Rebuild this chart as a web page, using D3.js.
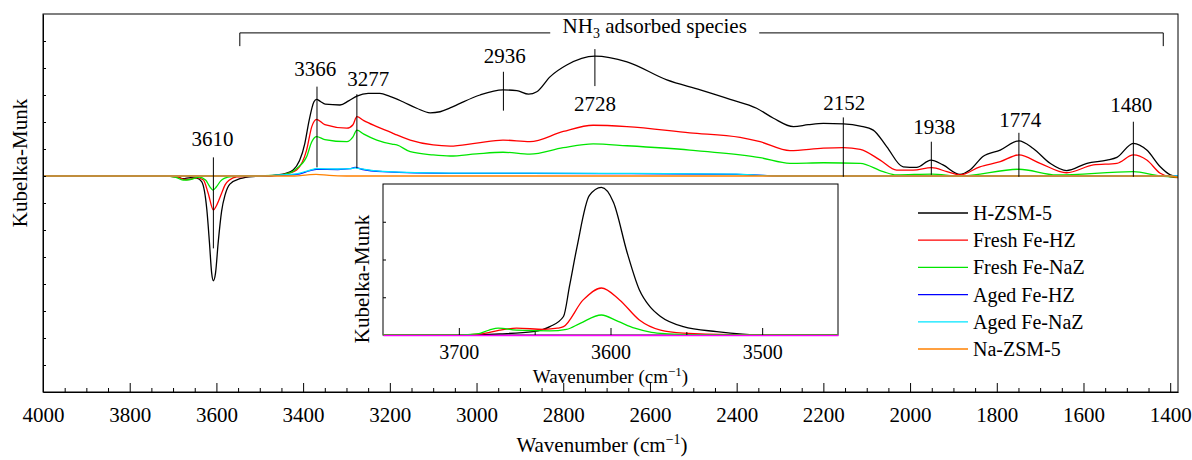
<!DOCTYPE html>
<html>
<head>
<meta charset="utf-8">
<script src="https://cdn.jsdelivr.net/npm/d3@7"></script>
<style>
  body { margin: 0; background: #fff; }
  svg { font-family: "Liberation Serif", "Times New Roman", serif; }
  .axis path, .axis line { stroke: #000; }
  .axis text { font-size: 21px; fill: #000; font-family: "Liberation Serif", serif; }
  .curve { fill: none; stroke-width: 1.3; }
</style>
</head>
<body>
<svg id="chart"></svg>
<script>
// ---- data ----
const seriesNames = ['H-ZSM-5', 'Fresh Fe-HZ', 'Fresh Fe-NaZ', 'Aged Fe-HZ', 'Aged Fe-NaZ', 'Na-ZSM-5'];
const seriesColors = ['#000000', '#ff0000', '#00e600', '#0000ff', '#00e5ff', '#ff8000'];

// [wavenumber, Kubelka-Munk]
const hZsm5 = [[4000,0],[3720,0],[3690,-0.003],[3677,-0.01],[3660,-0.006],[3645,-0.008],[3634,-0.021],[3622,-0.126],[3616,-0.248],[3611,-0.359],[3607,-0.388],[3602,-0.359],[3596,-0.248],[3588,-0.13],[3580,-0.07],[3569,-0.03],[3546,-0.01],[3516,-0.002],[3480,0],[3460,0.004],[3440,0.01],[3423,0.022],[3396,0.121],[3386,0.207],[3375,0.275],[3369,0.284],[3360,0.276],[3349,0.266],[3315,0.263],[3295,0.278],[3276,0.296],[3250,0.306],[3223,0.306],[3200,0.295],[3170,0.275],[3138,0.251],[3107,0.234],[3084,0.238],[3061,0.252],[3038,0.269],[2992,0.300],[2939,0.319],[2907,0.316],[2880,0.303],[2861,0.312],[2830,0.368],[2792,0.411],[2727,0.444],[2653,0.423],[2561,0.356],[2484,0.319],[2415,0.284],[2354,0.251],[2315,0.214],[2269,0.183],[2235,0.19],[2200,0.195],[2154,0.193],[2115,0.185],[2085,0.170],[2054,0.109],[2016,0.034],[1985,0.032],[1952,0.059],[1924,0.041],[1885,0.006],[1862,0.022],[1832,0.072],[1792,0.096],[1749,0.130],[1716,0.102],[1677,0.047],[1639,0.020],[1592,0.047],[1546,0.059],[1523,0.069],[1485,0.121],[1454,0.096],[1423,0.034],[1400,0.004],[1382,-0.003]];
const freshFeHZ = [[4000,0],[3720,0],[3690,-0.004],[3672,-0.013],[3660,-0.012],[3645,-0.006],[3630,-0.015],[3619,-0.064],[3607,-0.126],[3600,-0.11],[3588,-0.064],[3580,-0.033],[3570,-0.015],[3553,-0.003],[3500,0],[3460,0.003],[3430,0.012],[3415,0.022],[3392,0.096],[3380,0.183],[3369,0.21],[3350,0.19],[3299,0.177],[3285,0.19],[3276,0.22],[3260,0.205],[3230,0.183],[3195,0.16],[3184,0.152],[3153,0.133],[3100,0.115],[3061,0.111],[3000,0.122],[2939,0.133],[2877,0.127],[2800,0.165],[2731,0.188],[2653,0.183],[2508,0.160],[2392,0.143],[2346,0.127],[2277,0.094],[2200,0.103],[2154,0.105],[2115,0.099],[2069,0.059],[2031,0.022],[1993,0.022],[1950,0.031],[1915,0.016],[1885,0.004],[1839,0.034],[1792,0.053],[1749,0.078],[1700,0.047],[1639,0.012],[1577,0.041],[1523,0.047],[1485,0.078],[1454,0.059],[1423,0.010],[1400,-0.003],[1382,-0.006]];
const freshFeNaZ = [[4000,0],[3720,0],[3695,-0.004],[3677,-0.015],[3660,-0.013],[3640,-0.004],[3625,-0.015],[3615,-0.04],[3608,-0.052],[3600,-0.04],[3590,-0.018],[3582,-0.009],[3565,-0.002],[3520,0],[3460,0.003],[3430,0.012],[3415,0.028],[3392,0.071],[3380,0.127],[3369,0.146],[3350,0.135],[3299,0.127],[3285,0.145],[3276,0.170],[3260,0.155],[3230,0.133],[3195,0.118],[3184,0.115],[3153,0.090],[3100,0.078],[3061,0.074],[3000,0.082],[2939,0.088],[2877,0.081],[2800,0.105],[2731,0.119],[2653,0.112],[2508,0.096],[2392,0.078],[2346,0.068],[2277,0.047],[2200,0.049],[2115,0.047],[2062,0.016],[2031,0.004],[1950,0.007],[1885,0.0],[1749,0.025],[1662,0.004],[1485,0.016],[1423,0.0],[1382,-0.003]];
const agedFeHZ = [[4000,0],[3500,0],[3460,0.002],[3415,0.006],[3384,0.020],[3369,0.025],[3320,0.024],[3292,0.027],[3280,0.032],[3265,0.025],[3216,0.016],[3061,0.010],[2700,0.009],[2400,0.006],[2340,0.002],[2300,0],[1382,0]];
const agedFeNaZ = [[4000,0],[3500,0],[3460,0.003],[3415,0.008],[3384,0.022],[3369,0.027],[3320,0.026],[3292,0.027],[3280,0.030],[3265,0.026],[3216,0.017],[3061,0.011],[2700,0.010],[2400,0.007],[2340,0.002],[2300,0],[1382,0]];
const naZsm5 = [[4000,0],[3420,0],[3390,0.004],[3370,0.006],[3340,0.002],[3300,0],[1400,0],[1382,-0.004]];

// inset (3750-3450 cm-1)
const insetHZsm5 = [[3750,0],[3700,0],[3673,0.03],[3651,0.09],[3640,0.22],[3631,0.49],[3627,1.3],[3622,2.35],[3614,3.69],[3606,3.91],[3598,3.51],[3589,2.18],[3581,1.2],[3574,0.75],[3567,0.49],[3552,0.22],[3530,0.09],[3500,0.0],[3450,0]];
const insetFreshFeHZ = [[3750,0],[3700,0],[3685,0.03],[3673,0.13],[3662,0.18],[3644,0.15],[3635,0.18],[3631,0.22],[3618,0.93],[3606,1.245],[3594,0.93],[3581,0.4],[3567,0.13],[3552,0.05],[3520,0.01],[3450,0]];
const insetFreshFeNaZ = [[3750,0],[3700,0],[3688,0.03],[3680,0.13],[3674,0.18],[3662,0.13],[3640,0.11],[3629,0.15],[3620,0.31],[3606,0.53],[3595,0.36],[3584,0.18],[3573,0.07],[3562,0.03],[3540,0],[3450,0]];

const xTickValues = [4000, 3800, 3600, 3400, 3200, 3000, 2800, 2600, 2400, 2200, 2000, 1800, 1600, 1400];
const insetTickValues = [3700, 3600, 3500];

// peak markers: w = where the line sits, label text, line top/bottom (K-M units), label anchor
const peakMarks = [
  {w: 3607, label: '3610', top: 0.069, bottom: -0.268, lw: 3609, ly: 0.111},
  {w: 3368, label: '3366', top: 0.331, bottom: 0.032, lw: 3372, ly: 0.370},
  {w: 3276, label: '3277', top: 0.303, bottom: 0.029, lw: 3250, ly: 0.333},
  {w: 2938, label: '2936', top: 0.386, bottom: 0.242, lw: 2935, ly: 0.419},
  {w: 2727, label: '2728', top: 0.470, bottom: 0.333, lw: 2727, ly: 0.242},
  {w: 2154, label: '2152', top: 0.217, bottom: -0.003, lw: 2152, ly: 0.244},
  {w: 1951, label: '1938', top: 0.127, bottom: 0.004, lw: 1944, ly: 0.154},
  {w: 1749, label: '1774', top: 0.160, bottom: -0.003, lw: 1746, ly: 0.183},
  {w: 1485, label: '1480', top: 0.201, bottom: -0.003, lw: 1490, ly: 0.236}
];
const bracketRange = [3546, 1416];
const bracketGap = [2830, 2348];

// ---- layout ----
const width = 1192, height = 460;
const margin = {top: 14, right: 14, bottom: 68, left: 43};
const svg = d3.select('#chart').attr('width', width).attr('height', height);

const x = d3.scaleLinear().domain([4000, 1382]).range([margin.left, width - margin.right]);
const y = d3.scaleLinear().domain([-0.8, 0.6]).range([height - margin.bottom, margin.top]);

svg.append('clipPath').attr('id', 'clip')
  .append('rect')
    .attr('x', x.range()[0]).attr('y', y.range()[1])
    .attr('width', x.range()[1] - x.range()[0])
    .attr('height', y.range()[0] - y.range()[1]);

const line = d3.line()
  .x(d => x(d[0]))
  .y(d => y(d[1]))
  .curve(d3.curveMonotoneX);

const mainSeries = [hZsm5, freshFeHZ, freshFeNaZ, agedFeHZ, agedFeNaZ, naZsm5];

svg.append('g').attr('clip-path', 'url(#clip)')
  .selectAll('path')
  .data(mainSeries)
  .join('path')
    .attr('class', 'curve')
    .attr('d', line)
    .attr('stroke', (d, i) => seriesColors[i]);

// frame
svg.append('rect')
  .attr('x', x.range()[0]).attr('y', y.range()[1])
  .attr('width', x.range()[1] - x.range()[0])
  .attr('height', y.range()[0] - y.range()[1])
  .attr('fill', 'none').attr('stroke', '#000');

// x axis: majors with labels, minors every 50
svg.append('g')
  .attr('class', 'axis')
  .attr('transform', `translate(0,${y.range()[0]})`)
  .call(d3.axisBottom(x).tickValues(xTickValues).tickSize(-9).tickSizeOuter(0).tickPadding(15).tickFormat(d3.format('d')));

svg.append('g')
  .attr('class', 'axis')
  .attr('transform', `translate(0,${y.range()[0]})`)
  .call(d3.axisBottom(x).tickValues(d3.range(3950, 1382, -50).filter(v => v % 200 !== 0)).tickSize(-4).tickFormat(''))
  .call(g => g.select('.domain').remove());

svg.append('g')
  .attr('class', 'axis')
  .attr('transform', `translate(${x.range()[0]},0)`)
  .call(d3.axisLeft(y).tickValues(d3.range(-7, 6).map(v => v / 10)).tickSize(-3).tickSizeOuter(0).tickFormat(''));

svg.append('text')
  .attr('x', 602).attr('y', 452)
  .attr('text-anchor', 'middle')
  .style('font-size', '21px')
  .text('Wavenumber (cm')
  .call(t => t.append('tspan').attr('dy', -8).style('font-size', '14px').text('\u22121'))
  .call(t => t.append('tspan').attr('dy', 8).text(')'));

svg.append('text')
  .attr('transform', 'translate(20,163) rotate(-90)')
  .attr('text-anchor', 'middle')
  .attr('dominant-baseline', 'central')
  .style('font-size', '21px')
  .text('Kubelka-Munk');

// peak markers
const marks = svg.append('g');
marks.selectAll('line')
  .data(peakMarks)
  .join('line')
    .attr('x1', d => x(d.w)).attr('x2', d => x(d.w))
    .attr('y1', d => y(d.top)).attr('y2', d => y(d.bottom))
    .attr('stroke', '#000').attr('stroke-width', 1);
marks.selectAll('text')
  .data(peakMarks)
  .join('text')
    .attr('x', d => x(d.lw))
    .attr('y', d => y(d.ly))
    .attr('text-anchor', 'middle')
    .style('font-size', '21px')
    .text(d => d.label);

// NH3 bracket
const by = y(0.530), bEnd = y(0.481);
svg.append('path')
  .attr('d', `M${x(bracketRange[0])},${bEnd}V${by}H${x(bracketGap[0])}M${x(bracketGap[1])},${by}H${x(bracketRange[1])}V${bEnd}`)
  .attr('fill', 'none').attr('stroke', '#000');
svg.append('text')
  .attr('x', x((bracketGap[0] + bracketGap[1]) / 2)).attr('y', by)
  .attr('text-anchor', 'middle')
  .style('font-size', '21px')
  .text('NH')
  .call(t => t.append('tspan').attr('dy', 5).style('font-size', '14px').text('3'))
  .call(t => t.append('tspan').attr('dy', -5).text(' adsorbed species'));

// ---- inset ----
const ix = d3.scaleLinear().domain([3750, 3450]).range([383, 838]);
const iy = d3.scaleLinear().domain([0, 4]).range([335, 184]);

svg.append('rect')
  .attr('x', ix.range()[0]).attr('y', iy.range()[1])
  .attr('width', ix.range()[1] - ix.range()[0])
  .attr('height', iy.range()[0] - iy.range()[1])
  .attr('fill', '#fff').attr('stroke', '#000');

const iline = d3.line()
  .x(d => ix(d[0]))
  .y(d => iy(d[1]))
  .curve(d3.curveMonotoneX);

svg.append('g')
  .selectAll('path')
  .data([insetHZsm5, insetFreshFeHZ, insetFreshFeNaZ])
  .join('path')
    .attr('class', 'curve')
    .attr('d', iline)
    .attr('stroke', (d, i) => seriesColors[i]);

svg.append('g')
  .attr('class', 'axis')
  .attr('transform', `translate(0,${iy.range()[0]})`)
  .call(d3.axisBottom(ix).tickValues(insetTickValues).tickSize(-7).tickSizeOuter(0).tickPadding(10).tickFormat(d3.format('d')))
  .call(g => g.selectAll('text').style('font-size', '20px'))
  .call(g => g.select('.domain').style('stroke', '#ff00ff').attr('stroke-width', 1.5));

svg.append('g')
  .attr('class', 'axis')
  .attr('transform', `translate(0,${iy.range()[0]})`)
  .call(d3.axisBottom(ix).tickValues([3650, 3550]).tickSize(-3).tickFormat(''))
  .call(g => g.select('.domain').remove());

svg.append('g')
  .attr('class', 'axis')
  .attr('transform', `translate(${ix.range()[0]},0)`)
  .call(d3.axisLeft(iy).tickValues([1, 2, 3]).tickSize(-3).tickSizeOuter(0).tickFormat(''))
  .call(g => g.select('.domain').remove());

svg.append('text')
  .attr('x', (ix.range()[0] + ix.range()[1]) / 2).attr('y', 383)
  .attr('text-anchor', 'middle')
  .style('font-size', '19px')
  .text('Wavenumber (cm')
  .call(t => t.append('tspan').attr('dy', -7).style('font-size', '13px').text('\u22121'))
  .call(t => t.append('tspan').attr('dy', 7).text(')'));

svg.append('text')
  .attr('transform', 'translate(362,279) rotate(-90)')
  .attr('text-anchor', 'middle')
  .attr('dominant-baseline', 'central')
  .style('font-size', '21px')
  .text('Kubelka-Munk');

// ---- legend ----
const legend = svg.append('g').attr('transform', 'translate(918,213)');
const rows = legend.selectAll('g')
  .data(seriesNames)
  .join('g')
    .attr('transform', (d, i) => `translate(0,${i * 27.2})`);
rows.append('line')
  .attr('x1', 0).attr('x2', 50)
  .attr('stroke', (d, i) => seriesColors[i])
  .attr('stroke-width', 1.3);
rows.append('text')
  .attr('x', 55)
  .attr('dominant-baseline', 'central')
  .style('font-size', '20px')
  .text(d => d);
</script>
</body>
</html>
